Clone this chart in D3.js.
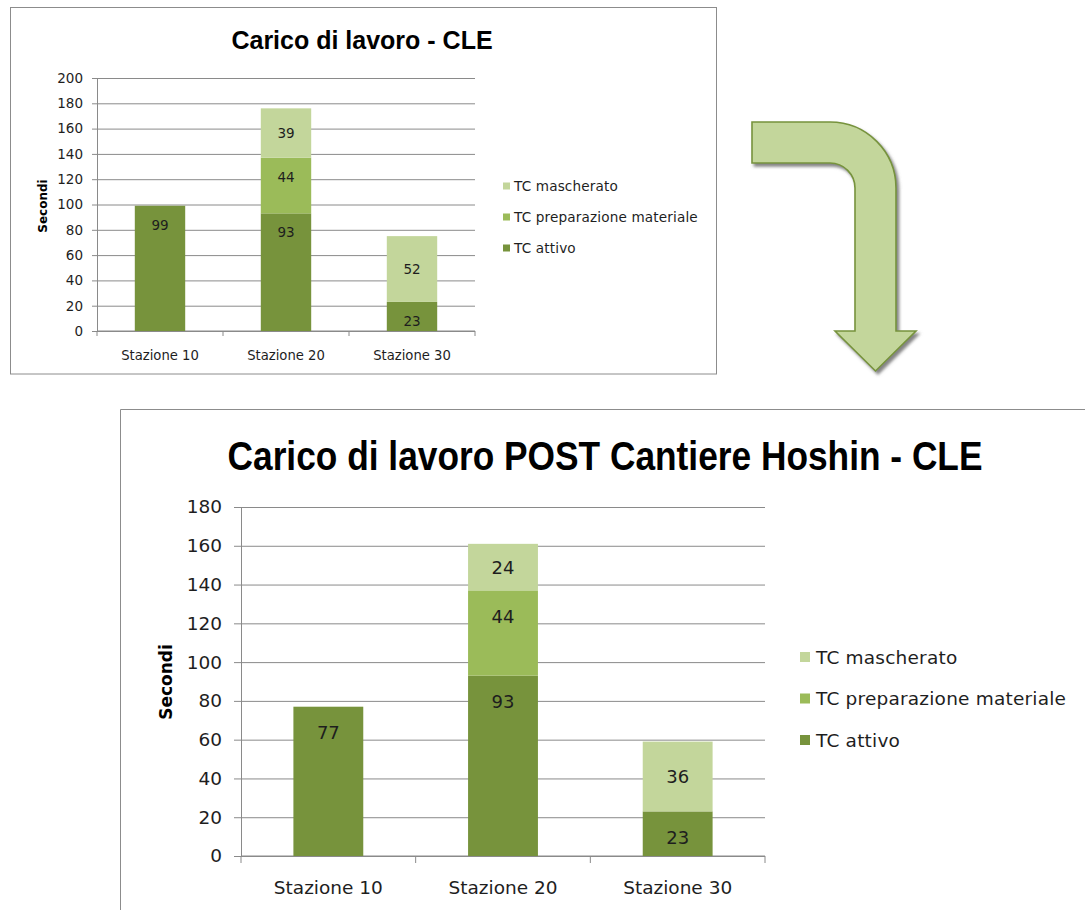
<!DOCTYPE html>
<html>
<head>
<meta charset="utf-8">
<script src="https://cdn.jsdelivr.net/npm/d3@7"></script>
<style>
  html, body { margin: 0; padding: 0; background: #ffffff; }
  svg { display: block; }
</style>
</head>
<body>
<svg id="page" width="1085" height="910"></svg>
<script>
// Workload per station, before and after the Hoshin improvement project
const categories = ["Stazione 10", "Stazione 20", "Stazione 30"];
const seriesKeys = ["attivo", "preparazione", "mascherato"];
const seriesNames = ["TC attivo", "TC preparazione materiale", "TC mascherato"];
const seriesColors = ["#77933C", "#9BBB59", "#C3D69B"];

// Before
const attivoPre = [99, 93, 23];
const preparazionePre = [0, 44, 0];
const mascheratoPre = [0, 39, 52];
const ticksPre = [0, 20, 40, 60, 80, 100, 120, 140, 160, 180, 200];

// After
const attivoPost = [77, 93, 23];
const preparazionePost = [0, 44, 0];
const mascheratoPost = [0, 24, 36];
const ticksPost = [0, 20, 40, 60, 80, 100, 120, 140, 160, 180];

const yAxisTitle = "Secondi";
const titlePre = "Carico di lavoro - CLE";
const titlePost = "Carico di lavoro POST Cantiere Hoshin - CLE";

const svg = d3.select("#page");
const FONT = "'DejaVu Sans', Verdana, sans-serif";
const TITLE_FONT = "'Liberation Sans', Arial, sans-serif";
const GRID = "#8a8a8a";
const TEXT = "#1e1e1e";

const defs = svg.append("defs");
defs.append("filter").attr("id", "arrowShadow")
  .attr("x", "-20%").attr("y", "-20%").attr("width", "150%").attr("height", "150%")
  .append("feDropShadow")
  .attr("dx", 2.5).attr("dy", 3).attr("stdDeviation", 1.4)
  .attr("flood-color", "#6e6e6e").attr("flood-opacity", 0.85);

function drawChart(o) {
  const g = svg.append("g");
  const rows = categories.map((c, i) => ({
    cat: c, attivo: o.attivo[i], preparazione: o.preparazione[i], mascherato: o.mascherato[i]
  }));
  const stacked = d3.stack().keys(seriesKeys)(rows);

  const x = d3.scaleBand().domain(categories).range([o.x0, o.x1])
    .paddingInner(0.6).paddingOuter(0.3);
  const y = d3.scaleLinear().domain([0, d3.max(o.ticks)]).range([o.y0, o.y1]);

  // Title: a condensed bold face, narrowed horizontally to the target width
  const title = g.append("text")
    .attr("x", 0).attr("y", 0)
    .attr("text-anchor", "middle")
    .attr("font-family", TITLE_FONT).attr("font-weight", "bold")
    .attr("font-size", o.titleSize).attr("fill", "#000")
    .text(o.title);
  const natural = title.node().getComputedTextLength();
  const k = Math.min(1, o.titleLen / natural);
  title.attr("transform", `translate(${o.titleX},${o.titleY}) scale(${k},1)`);

  // Y axis with full-width gridlines
  const yAxis = d3.axisLeft(y).tickValues(o.ticks)
    .tickSizeInner(-(o.x1 - o.x0)).tickSizeOuter(0).tickPadding(o.tickPad);
  const ya = g.append("g").attr("transform", `translate(${o.x0},0)`).call(yAxis);
  ya.select(".domain").attr("stroke", GRID);
  ya.selectAll(".tick line").attr("stroke", GRID).attr("x1", -o.tick);
  ya.selectAll(".tick text")
    .attr("font-family", FONT).attr("font-size", o.tickSize).attr("fill", TEXT);

  // Y axis title
  g.append("text")
    .attr("transform", `translate(${o.yTitleX},${o.yTitleY}) rotate(-90)`)
    .attr("text-anchor", "middle").attr("dominant-baseline", "central")
    .attr("font-family", FONT).attr("font-weight", "bold")
    .attr("font-size", o.yTitleSize).attr("fill", "#000")
    .text(yAxisTitle);

  // X axis line and category separators
  g.append("line").attr("x1", o.x0).attr("x2", o.x1)
    .attr("y1", y(0)).attr("y2", y(0)).attr("stroke", GRID);
  const step = x.step();
  g.selectAll(".xsep").data(d3.range(categories.length + 1)).join("line")
    .attr("x1", i => o.x0 + i * step).attr("x2", i => o.x0 + i * step)
    .attr("y1", y(0)).attr("y2", y(0) + o.tick).attr("stroke", GRID);
  g.selectAll(".cat").data(categories).join("text")
    .attr("x", d => x(d) + x.bandwidth() / 2).attr("y", o.catY)
    .attr("text-anchor", "middle").attr("dominant-baseline", "central")
    .attr("font-family", FONT).attr("font-size", o.catSize).attr("fill", TEXT)
    .text(d => d);

  // Stacked bars
  stacked.forEach((layer, si) => {
    const lg = g.append("g");
    lg.selectAll("rect").data(layer.filter(d => d[1] - d[0] > 0)).join("rect")
      .attr("x", d => x(d.data.cat)).attr("width", x.bandwidth())
      .attr("y", d => y(d[1])).attr("height", d => y(d[0]) - y(d[1]))
      .attr("fill", seriesColors[si]);
    // value labels: "TC mascherato" centred, others at the inside end
    lg.selectAll("text").data(layer.filter(d => d[1] - d[0] > 0)).join("text")
      .attr("x", d => x(d.data.cat) + x.bandwidth() / 2)
      .attr("y", d => layer.key === "mascherato"
        ? (y(d[0]) + y(d[1])) / 2
        : y(d[1]) + o.labelInset)
      .attr("text-anchor", "middle").attr("dominant-baseline", "central")
      .attr("font-family", FONT).attr("font-size", o.labelSize).attr("fill", TEXT)
      .text(d => d[1] - d[0]);
  });

  // Legend (top to bottom: mascherato, preparazione, attivo)
  const order = [2, 1, 0];
  order.forEach((si, k) => {
    const ly = o.legY + k * o.legGap;
    g.append("rect")
      .attr("x", o.legX).attr("y", ly - o.legBox / 2)
      .attr("width", o.legBox).attr("height", o.legBox)
      .attr("fill", seriesColors[si]);
    g.append("text")
      .attr("x", o.legX + o.legBox + o.legTextGap).attr("y", ly)
      .attr("dominant-baseline", "central")
      .attr("font-family", FONT).attr("font-size", o.legSize)
      .attr("letter-spacing", o.legSpacing).attr("fill", TEXT)
      .text(seriesNames[si]);
  });
}

// Frames
svg.append("rect").attr("x", 10.5).attr("y", 7.5).attr("width", 706).attr("height", 366.5)
  .attr("fill", "none").attr("stroke", "#8c8c8c");
svg.append("path").attr("d", "M120.5,910 L120.5,409.5 L1085,409.5")
  .attr("fill", "none").attr("stroke", "#8c8c8c");

drawChart({
  title: titlePre, titleX: 362, titleY: 49, titleSize: 25, titleLen: 264,
  attivo: attivoPre, preparazione: preparazionePre, mascherato: mascheratoPre,
  ticks: ticksPre,
  x0: 97, x1: 475, y0: 331, y1: 78,
  tick: 5, tickPad: 14, tickSize: 13.5,
  yTitleX: 43, yTitleY: 206, yTitleSize: 12,
  catY: 355, catSize: 13.2,
  labelInset: 19, labelSize: 13.5,
  legX: 503, legY: 186, legGap: 31, legBox: 7, legTextGap: 4, legSize: 13.6, legSpacing: 0.15
});

drawChart({
  title: titlePost, titleX: 605, titleY: 470, titleSize: 41, titleLen: 755,
  attivo: attivoPost, preparazione: preparazionePost, mascherato: mascheratoPost,
  ticks: ticksPost,
  x0: 241, x1: 765, y0: 856, y1: 507,
  tick: 7, tickPad: 19, tickSize: 18.5,
  yTitleX: 166, yTitleY: 682, yTitleSize: 17,
  catY: 887, catSize: 18.5,
  labelInset: 26, labelSize: 18,
  legX: 800, legY: 657, legGap: 41.5, legBox: 10, legTextGap: 6, legSize: 18.5, legSpacing: 0.2
});

// Curved arrow between the two charts
const arrow = d3.path();
arrow.moveTo(752, 122);
arrow.lineTo(830, 122);
arrow.arc(830, 188, 66, -Math.PI / 2, 0);
arrow.lineTo(896, 331);
arrow.lineTo(916, 331);
arrow.lineTo(875.5, 371);
arrow.lineTo(835, 331);
arrow.lineTo(855, 331);
arrow.lineTo(855, 188);
arrow.arc(830, 188, 25, 0, -Math.PI / 2, true);
arrow.lineTo(752, 163);
arrow.closePath();
svg.append("path").attr("d", arrow.toString())
  .attr("fill", "#C3D69B").attr("stroke", "#77933C").attr("stroke-width", 1.6)
  .attr("stroke-linejoin", "miter")
  .attr("filter", "url(#arrowShadow)");
</script>
</body>
</html>
